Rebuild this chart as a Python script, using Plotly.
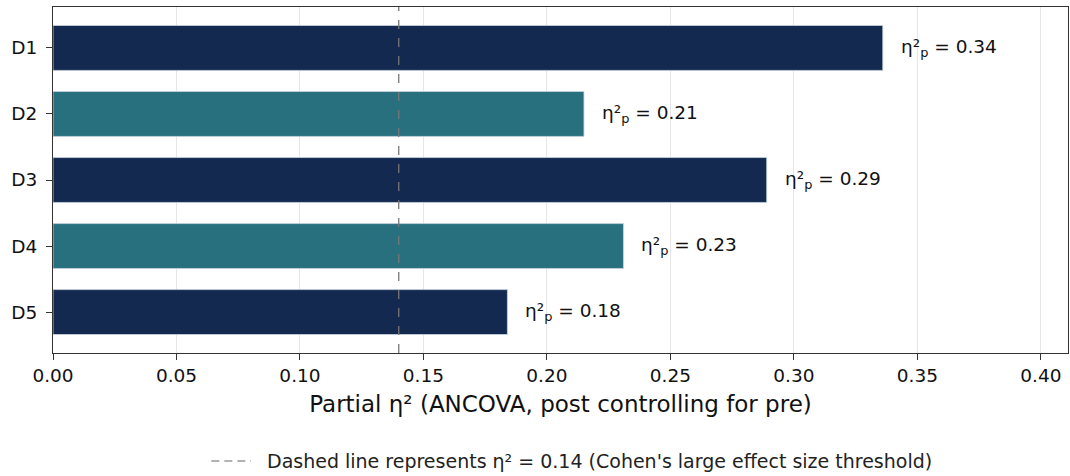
import plotly.graph_objects as go

categories = ["D1", "D2", "D3", "D4", "D5"]
eta_values = [0.336, 0.215, 0.289, 0.231, 0.184]
eta_labels = ["0.34", "0.21", "0.29", "0.23", "0.18"]
bar_colors = ["#13294f", "#29707f", "#13294f", "#29707f", "#13294f"]
threshold = 0.14
x_ticks = [0.00, 0.05, 0.10, 0.15, 0.20, 0.25, 0.30, 0.35, 0.40]

FONT = "DejaVu Sans"

fig = go.Figure()
fig.add_trace(go.Bar(
    y=categories, x=eta_values, orientation="h",
    marker=dict(color=bar_colors, line=dict(color="#c8d4e0", width=0.8)),
    width=0.68, showlegend=False,
))

for c, v, lab in zip(categories, eta_values, eta_labels):
    fig.add_annotation(
        x=v, y=c, xref="x", yref="y",
        text=f"η²<sub>p</sub> = {lab}",
        showarrow=False, xanchor="left", xshift=16,
        font=dict(family=FONT, size=18.5, color="#111111"),
    )

fig.add_shape(type="line", xref="x", yref="paper", x0=threshold, x1=threshold,
              y0=0, y1=1, line=dict(color="#777777", width=1.3, dash="dash"))

# footer legend note
fig.add_shape(type="line", xref="paper", yref="paper", x0=0.156, x1=0.195,
              y0=-0.312, y1=-0.312, line=dict(color="#999999", width=1.5, dash="8px,5px"))
fig.add_annotation(
    x=0.2089, y=-0.312, xref="paper", yref="paper", xanchor="left", yanchor="middle",
    text="Dashed line represents η² = 0.14 (Cohen's large effect size threshold)",
    showarrow=False, font=dict(family=FONT, size=19, color="#222222"),
)

fig.update_layout(
    width=1070, height=476,
    margin=dict(l=53, r=2, t=7, b=123),
    plot_bgcolor="white", paper_bgcolor="white",
    font=dict(family=FONT, color="#111111"),
)
fig.update_xaxes(
    range=[0, 0.411], tickvals=x_ticks, ticktext=[f"{t:.2f}" for t in x_ticks],
    showgrid=True, gridcolor="#e6e6e6", gridwidth=1,
    showline=True, linecolor="#333333", linewidth=1.2, mirror=True,
    ticks="outside", ticklen=6, tickcolor="#333333",
    tickfont=dict(family=FONT, size=18.5, color="#111111"),
    title=dict(text="Partial η² (ANCOVA, post controlling for pre)",
               font=dict(family=FONT, size=23, color="#111111"), standoff=10),
    zeroline=False, automargin=False,
)
fig.update_yaxes(
    range=[4.62, -0.62], autorange=False,
    showgrid=False,
    showline=True, linecolor="#333333", linewidth=1.2, mirror=True,
    ticks="outside", ticklen=6, tickcolor="#333333", ticklabelstandoff=5,
    tickfont=dict(family=FONT, size=18.5, color="#111111"),
    automargin=False,
)

fig.write_html("out.html", config={"displayModeBar": False},
               post_script="document.body.style.margin='0';document.body.style.overflow='hidden';")
